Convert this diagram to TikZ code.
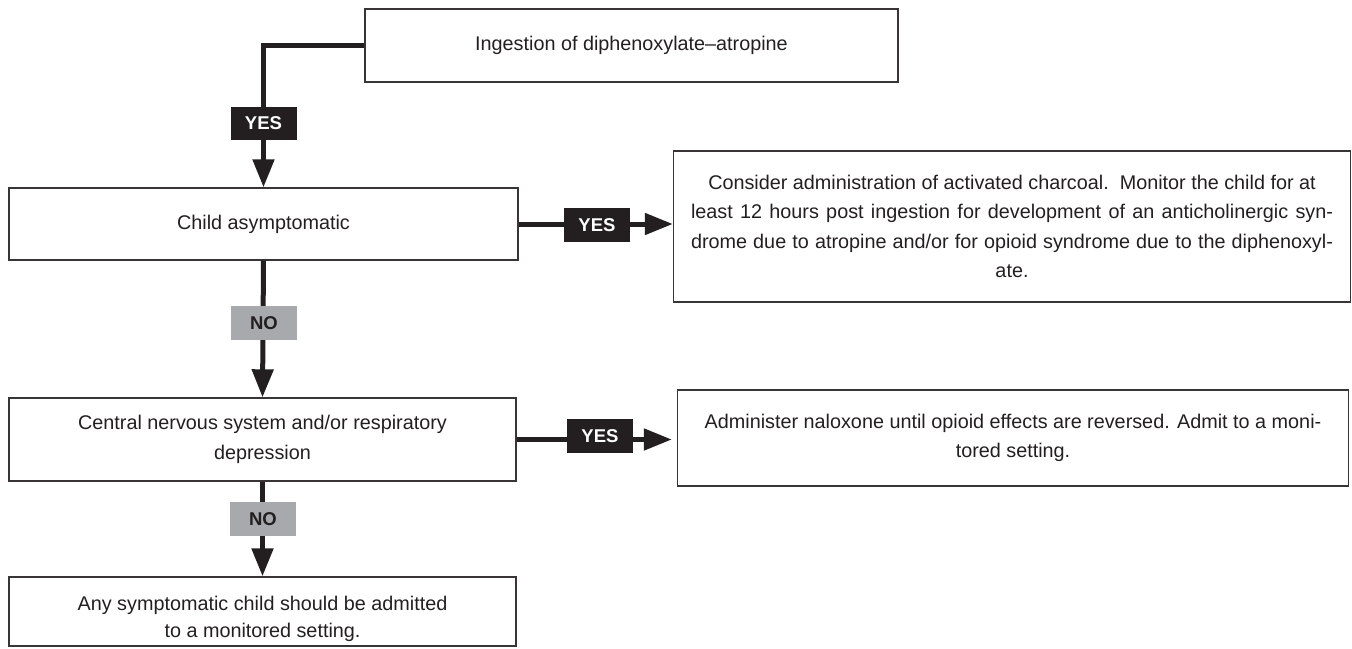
\documentclass[tikz,border=0pt]{standalone}
\usepackage{fontspec}
\setmainfont{Liberation Sans}
\usetikzlibrary{arrows.meta}
\definecolor{ink}{HTML}{231F20}
\definecolor{nogray}{HTML}{A7A9AC}
\begin{document}
\begin{tikzpicture}[x=1pt,y=-1pt,
  box/.style={draw=ink!90, line width=1.4pt, rectangle, text=ink, align=center,
    font=\fontsize{19.8}{29.5}\selectfont, inner sep=0pt},
  boxtext/.style={text=ink, align=center, font=\fontsize{19.8}{27}\selectfont, inner sep=0pt},
  flow/.style={draw=ink, line width=5pt,
    -{Triangle[length=28pt,width=21pt]}},
  yeslabel/.style={fill=ink, text=white, font=\fontsize{18.5}{20}\selectfont\bfseries,
    minimum width=66pt, minimum height=33pt, inner sep=0pt},
  nolabel/.style={fill=nogray, text=ink, font=\fontsize{18.5}{20}\selectfont\bfseries,
    minimum width=66pt, minimum height=34pt, inner sep=0pt}]
\useasboundingbox (0,0) rectangle (1352,648);

% decision boxes
\node[box, minimum width=533pt, minimum height=73pt] (ingest) at (631.5,45.5)
  {Ingestion of diphenoxylate--atropine};
\node[box, minimum width=509pt, minimum height=72pt] (asym) at (263.5,224)
  {Child asymptomatic};
\node[box, minimum width=677pt, minimum height=151pt] (charcoal) at (1012,226.5)
  {Consider administration of activated charcoal.\ \ Monitor the child for at\\
   \makebox[642pt][s]{least 12 hours post ingestion for development of an anticholinergic syn-}\\
   \makebox[642pt][s]{drome due to atropine and/or for opioid syndrome due to the diphenoxyl-}\\
   ate.};
\node[box, minimum width=507pt, minimum height=83pt] (cns) at (262.5,439.5)
  {Central nervous system and/or respiratory\\ depression};
\node[box, minimum width=671pt, minimum height=96pt] (naloxone) at (1013,438)
  {Administer naloxone until opioid effects are reversed. Admit to a moni-\\
   tored setting.};
\node[box, minimum width=507pt, minimum height=69pt] (admit) at (262.5,611.5) {};
\node[boxtext] (admittext) at (262.5,619)
  {Any symptomatic child should be admitted\\ to a monitored setting.};

% connectors
\draw[flow] (ingest.west) -| (asym.north);
\draw[flow] (asym.east) -- (asym.east -| charcoal.west);
\draw[flow] (asym.south) -- (cns.north);
\draw[flow, shorten >=5pt] (cns.east) -- (cns.east -| naloxone.west);
\draw[flow] (cns.south) -- (admit.north);

% branch labels
\node[yeslabel] (yes1) at (263.5,123) {YES};
\node[yeslabel, minimum height=34pt] (yes2) at (597,225) {YES};
\node[nolabel] (no1) at (264,323) {NO};
\node[yeslabel, minimum height=34pt] (yes3) at (600,436) {YES};
\node[nolabel] (no2) at (263,519) {NO};
\end{tikzpicture}
\end{document}
